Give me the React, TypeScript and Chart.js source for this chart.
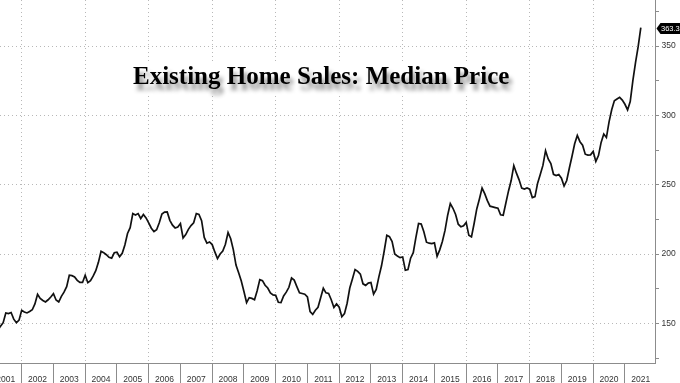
import React, { useEffect, useRef } from "react";
import { Chart, registerables } from "chart.js";

Chart.register(...registerables);

// Median existing home sales price, thousands of USD, monthly (Jan..Dec)
const p2001 = [141, 143, 145, 148, 150.5, 157.5, 157, 157.8, 153, 150.4, 152.3, 159.4];
const p2002 = [158.2, 157.5, 158.5, 159.8, 164, 171, 168, 166.5, 165.4, 167, 169, 171.4];
const p2003 = [166.8, 165.4, 169.5, 172.5, 176.5, 184.7, 184.4, 183.5, 181, 179.5, 179.5, 184.7];
const p2004 = [179.3, 180.8, 184, 188, 194, 202, 201, 199.5, 197.6, 197, 200.9, 201.3];
const p2005 = [198, 200.5, 206.5, 214.8, 219, 229.2, 228.2, 229.2, 225.6, 228.5, 226, 222.5];
const p2006 = [218.6, 216.2, 217.5, 222.5, 228.8, 230.2, 230.3, 224.3, 220.8, 218.8, 219.5, 222];
const p2007 = [211.6, 214, 217.8, 220.5, 222.5, 229.2, 228.5, 224, 212, 207.8, 208.7, 206.8];
const p2008 = [201.5, 196.7, 200, 202.2, 207, 215.5, 211, 203, 192, 186.5, 180.5, 173];
const p2009 = [165, 168.5, 168, 167, 173.5, 181.5, 180.8, 177.5, 175.5, 172, 170.5, 170.2];
const p2010 = [165.2, 165, 169.8, 172.5, 176, 182.7, 181.2, 176.5, 172, 171.5, 171, 169];
const p2011 = [158.5, 156.5, 159.5, 161.6, 168.5, 175.3, 172, 171.5, 167, 161.4, 164, 161.6];
const p2012 = [154.7, 157, 164.5, 175.5, 182, 188.8, 187.5, 185.5, 178.5, 177.4, 179, 179.5];
const p2013 = [171, 174.5, 183.5, 191.5, 202, 213.5, 212.5, 209, 200, 198.5, 197.4, 197.9];
const p2014 = [188.3, 188.8, 197, 201, 212, 222, 221.6, 216, 208.5, 207.8, 207.5, 208];
const p2015 = [198.4, 203, 209, 217, 228, 236.4, 233, 228.5, 221.5, 219.6, 220.3, 222.8];
const p2016 = [213.5, 212.3, 222, 232.5, 239.7, 247.6, 243.5, 238.5, 234.5, 234, 233.5, 233];
const p2017 = [228.3, 228, 236.8, 245.5, 253, 263.8, 258.3, 253.5, 247.5, 246.8, 247.6, 246.8];
const p2018 = [240.7, 241.4, 251.1, 257.4, 263.9, 274.5, 268.6, 265.3, 257.5, 256.6, 257.4, 254.7];
const p2019 = [249, 253, 262, 270.5, 279.5, 285.5, 281, 278.5, 272, 271.3, 271.5, 274];
const p2020 = [266.8, 271, 280.5, 286.5, 284, 295.3, 304, 310.5, 311.8, 313, 311, 308];
const p2021 = [303.9, 310, 325, 338, 349.5, 363.3];

const firstYear = 2001;
const yearlyPrices = [
  p2001, p2002, p2003, p2004, p2005, p2006, p2007, p2008, p2009, p2010, p2011,
  p2012, p2013, p2014, p2015, p2016, p2017, p2018, p2019, p2020, p2021,
];

// Axis ticks
const yearLabels = [
  2001, 2002, 2003, 2004, 2005, 2006, 2007, 2008, 2009, 2010, 2011,
  2012, 2013, 2014, 2015, 2016, 2017, 2018, 2019, 2020, 2021,
];
const yearBoundaries = [
  2002, 2003, 2004, 2005, 2006, 2007, 2008, 2009, 2010, 2011, 2012,
  2013, 2014, 2015, 2016, 2017, 2018, 2019, 2020, 2021,
];
const yTicks = [125, 150, 175, 200, 225, 250, 275, 300, 325, 350, 375];
const yLabelTicks = [150, 200, 250, 300, 350];

const titleText = "Existing Home Sales: Median Price";

const AXIS_FONT = '"Liberation Sans Narrow", "Liberation Sans", Arial, sans-serif';

export default function App() {
  const canvasRef = useRef<HTMLCanvasElement | null>(null);

  useEffect(() => {
    const canvas = canvasRef.current;
    if (!canvas) return;

    const points: { x: number; y: number }[] = [];
    yearlyPrices.forEach((arr, yi) => {
      arr.forEach((v, mi) => {
        points.push({ x: firstYear + yi + (mi + 1) / 12, y: v });
      });
    });
    const lastValue = points[points.length - 1].y;

    const lastValuePlugin = {
      id: "lastValueBox",
      afterDraw(chart: any) {
        const ys = chart.scales.y;
        const ctx = chart.ctx;
        const y = Math.round(ys.getPixelForValue(lastValue)) + 0.5;
        const x0 = ys.left + 1.5;
        const h = 5.5;
        ctx.save();
        ctx.fillStyle = "#000";
        ctx.beginPath();
        ctx.moveTo(x0, y);
        ctx.lineTo(x0 + 4, y - h);
        ctx.lineTo(chart.width, y - h);
        ctx.lineTo(chart.width, y + h);
        ctx.lineTo(x0 + 4, y + h);
        ctx.closePath();
        ctx.fill();
        ctx.fillStyle = "#fff";
        ctx.font = `7.5px ${AXIS_FONT}`;
        ctx.textBaseline = "middle";
        ctx.textAlign = "left";
        ctx.fillText(lastValue.toFixed(1), x0 + 4.5, y + 0.5);
        ctx.restore();
      },
    };

    const chart = new Chart(canvas, {
      type: "line",
      data: {
        datasets: [
          {
            data: points,
            borderColor: "#111",
            borderWidth: 1.7,
            pointRadius: 0,
            tension: 0,
            fill: false,
          },
        ],
      },
      options: {
        animation: false,
        responsive: false,
        devicePixelRatio: 1,
        layout: { padding: 0 },
        plugins: {
          legend: { display: false },
          tooltip: { enabled: false },
          title: { display: false },
        },
        scales: {
          x: {
            type: "linear",
            min: 2001.317,
            max: 2021.947,
            afterBuildTicks: (s: any) => {
              const t = [
                ...yearLabels.map((y) => y + 0.5),
                ...yearBoundaries,
              ].sort((a, b) => a - b);
              s.ticks = t.map((v) => ({ value: v }));
            },
            afterFit: (s: any) => {
              s.height = 20;
              s.paddingLeft = 0;
              s.paddingRight = 0;
            },
            ticks: {
              autoSkip: false,
              maxRotation: 0,
              minRotation: 0,
              padding: -8.5,
              color: "#333",
              font: { family: AXIS_FONT, size: 8.5 },
              callback: (v: any) =>
                Number.isInteger(v) ? "" : String(Math.floor(v)),
            },
            grid: {
              drawOnChartArea: true,
              drawTicks: true,
              tickLength: 20,
              lineWidth: 1,
              tickWidth: 1,
              color: (ctx: any) => {
                const v = ctx.tick ? ctx.tick.value : NaN;
                return Number.isInteger(v) && v % 2 === 0
                  ? "#b8b8b8"
                  : "rgba(0,0,0,0)";
              },
              tickColor: (ctx: any) => {
                const v = ctx.tick ? ctx.tick.value : NaN;
                return Number.isInteger(v) ? "#8c8c8c" : "rgba(0,0,0,0)";
              },
            },
            border: { display: true, color: "#8c8c8c", width: 1, dash: [1, 3] },
          },
          y: {
            type: "linear",
            position: "right",
            min: 121.4,
            max: 383.2,
            afterBuildTicks: (s: any) => {
              s.ticks = yTicks.map((v) => ({ value: v }));
            },
            afterFit: (s: any) => {
              s.width = 25;
              s.paddingTop = 0;
              s.paddingBottom = 0;
            },
            ticks: {
              autoSkip: false,
              padding: 2.5,
              color: "#333",
              font: { family: AXIS_FONT, size: 8.5 },
              callback: (v: any) =>
                yLabelTicks.includes(v) ? String(v) : "",
            },
            grid: {
              drawOnChartArea: true,
              tickLength: 4,
              lineWidth: 1,
              color: (ctx: any) => {
                const v = ctx.tick ? ctx.tick.value : NaN;
                return yLabelTicks.includes(v) ? "#b8b8b8" : "rgba(0,0,0,0)";
              },
              tickColor: "#8c8c8c",
            },
            border: { display: true, color: "#8c8c8c", width: 1, dash: [1, 3] },
          },
        },
      },
      plugins: [lastValuePlugin],
    } as any);

    return () => chart.destroy();
  }, []);

  return (
    <div
      style={{
        position: "fixed",
        left: 0,
        top: 0,
        width: 680,
        height: 383,
        background: "#fff",
        overflow: "hidden",
      }}
    >
      <canvas
        ref={canvasRef}
        width={680}
        height={383}
        style={{ display: "block", width: 680, height: 383 }}
      />
      <div
        style={{
          position: "absolute",
          left: 129,
          top: 61,
          padding: "2px 4px 6px 4px",
          background: "#fff",
          fontFamily: '"Liberation Serif", "Times New Roman", serif',
          fontWeight: "bold",
          fontSize: 25,
          lineHeight: "25px",
          color: "#000",
          whiteSpace: "nowrap",
          textShadow: "3px 6px 4px rgba(0,0,0,0.45)",
        }}
      >
        {titleText}
      </div>
    </div>
  );
}
